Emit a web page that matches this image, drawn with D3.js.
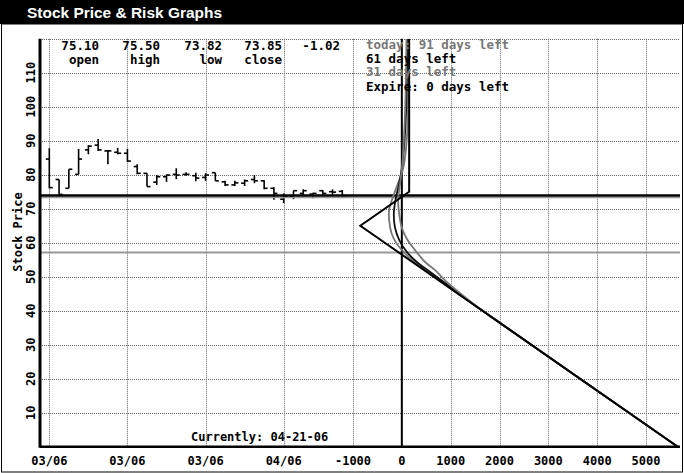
<!DOCTYPE html>
<html><head><meta charset="utf-8">
<script src="https://cdn.jsdelivr.net/npm/d3@7"></script>
<style>body{margin:0;background:#fff;} svg{display:block;}</style>
</head><body><svg id="c" width="684" height="473"></svg>
<script>
// ---------- data ----------
const titleText = "Stock Price & Risk Graphs";
const dateTickIdx = [0, 8, 16, 24];
const dateTickLabels = ["03/06", "03/06", "03/06", "04/06"];
const barOpen  = [84.6,78.6,76.0,80.1,87.3,88.7,87.0,86.6,86.3,82.4,80.4,77.8,79.4,80.1,80.1,79.7,79.2,80.6,77.9,77.0,77.5,78.6,78.2,76.0,72.8,73.5,74.5,74.3,75.3,75.0,75.10];
const barHigh  = [87.8,78.6,81.6,87.6,88.7,90.5,87.3,87.9,87.6,83.1,80.4,79.9,80.1,81.9,80.7,80.6,80.4,80.6,78.2,78.2,78.6,79.9,78.4,76.3,74.5,75.3,75.7,74.7,75.5,75.7,75.50];
const barLow   = [76.0,74.2,76.0,80.1,86.0,87.0,83.1,86.0,83.8,80.1,76.5,77.0,77.9,78.7,79.7,78.1,78.2,78.2,76.7,76.7,76.7,77.5,75.7,72.6,71.6,72.8,73.7,73.1,73.7,74.0,73.82];
const barClose = [76.2,74.2,81.6,84.6,88.4,87.3,87.0,86.3,84.0,80.4,76.5,79.4,79.9,79.9,80.1,79.0,79.9,78.2,77.0,77.6,78.2,78.2,76.0,74.5,73.5,75.3,75.3,74.5,74.5,74.87,73.85];
const quoteValues = ["75.10", "75.50", "73.82", "73.85", "-1.02"];
const quoteLabels = ["open", "high", "low", "close", ""];
const priceTicks = [10, 20, 30, 40, 50, 60, 70, 80, 90, 100, 110];
const priceGrid  = [10, 20, 30, 40, 50, 60, 70, 80, 90, 100, 110, 120];
const pnlTicks = [-1000, 0, 1000, 2000, 3000, 4000, 5000];
const currentPrice = 73.85;
const shadowPrice = 73.3;
const breakevenPrice = 57.1;
const currentDate = "Currently: 04-21-06";
const legendLabels = ["today: 91 days left", "61 days left", "31 days left", "Expire: 0 days left"];
const expiryPrice = [120, 75, 65, 0];
const expiryPnL   = [150, 150, -850, 5650];
const curve91Price = [120, 110, 100, 90, 82, 77, 72.6, 68.6, 64.7, 61.3, 57.9, 54.4, 52.0, 49, 46, 42, 36, 0];
const curve91PnL   = [95, 85, 70, 40, 5, -40, -76, -55, -6, 96, 266, 471, 676, 880, 1120, 1470, 2055, 5650];
const curve61Price = [120, 110, 100, 90, 82, 77, 73.1, 68.6, 64.7, 60.8, 57.4, 54.4, 51.5, 48, 44, 38, 0];
const curve61PnL   = [115, 105, 90, 55, 0, -60, -123, -164, -143, -55, 96, 301, 574, 900, 1270, 1850, 5650];
const curve31Price = [120, 110, 100, 90, 82, 77, 73.1, 69.6, 66.7, 62.8, 59.8, 56.9, 53.9, 51.5, 48, 44, 0];
const curve31PnL   = [140, 135, 125, 100, 30, -90, -190, -260, -260, -211, -109, 61, 301, 539, 860, 1252, 5650];

// ---------- drawing ----------
const svg = d3.select("#c");
const W = 684, H = 473;
const plotL = 40, plotR = 680;
const mono = "'DejaVu Sans Mono', monospace";

const y = d3.scaleLinear().domain([0, 120]).range([446.7, 38.7]);
const xd = d3.scalePoint().domain(d3.range(barOpen.length)).range([49.3, 342.3]);
const xp = d3.scaleLinear().domain([-1000, 5000]).range([353, 646]);

svg.append("rect").attr("width", W).attr("height", H).attr("fill", "#fff");
// title bar
svg.append("rect").attr("x", 0).attr("y", 0).attr("width", W).attr("height", 24).attr("fill", "#000");
svg.append("text").attr("x", 27).attr("y", 17.5).attr("fill", "#fff")
  .attr("font-family", "'Liberation Sans', Arial, sans-serif").attr("font-weight", "bold")
  .attr("font-size", 14.5).attr("textLength", 195).attr("lengthAdjust", "spacingAndGlyphs").text(titleText);
// frame
svg.append("rect").attr("x", 1.5).attr("y", 24).attr("width", W - 3).attr("height", H - 25)
  .attr("fill", "none").attr("stroke", "#000").attr("stroke-width", 1);

const grid = svg.append("g").attr("stroke", "#666").attr("stroke-width", 1).attr("stroke-dasharray", "1,1");
priceGrid.forEach(v => {
  grid.append("line").attr("x1", plotL).attr("x2", plotR)
    .attr("y1", Math.round(y(v)) + 0.5).attr("y2", Math.round(y(v)) + 0.5);
});
dateTickIdx.forEach(i => {
  const xx = Math.round(xd(i)) + 0.5;
  grid.append("line").attr("x1", xx).attr("x2", xx).attr("y1", y(120)).attr("y2", y(0));
});
pnlTicks.filter(v => v !== 0).forEach(v => {
  const xx = Math.round(xp(v)) + 0.5;
  grid.append("line").attr("x1", xx).attr("x2", xx).attr("y1", y(120)).attr("y2", y(0));
});

// header quote
const qx = [99, 160, 222, 282, 340];
quoteValues.forEach((t, i) => {
  svg.append("text").attr("x", qx[i]).attr("y", 50).attr("text-anchor", "end")
    .attr("font-family", mono).attr("font-weight", "bold").attr("font-size", 12.5).text(t);
  if (quoteLabels[i]) svg.append("text").attr("x", qx[i]).attr("y", 64).attr("text-anchor", "end")
    .attr("font-family", mono).attr("font-weight", "bold").attr("font-size", 12.5).text(quoteLabels[i]);
});

// price bars
const bars = svg.append("g").attr("stroke", "#000").attr("stroke-width", 1.6);
barOpen.forEach((o, i) => {
  const xx = xd(i);
  bars.append("line").attr("x1", xx).attr("x2", xx).attr("y1", y(barHigh[i])).attr("y2", y(barLow[i]));
  bars.append("line").attr("x1", xx - 3.5).attr("x2", xx).attr("y1", y(o)).attr("y2", y(o));
  bars.append("line").attr("x1", xx).attr("x2", xx + 3.5).attr("y1", y(barClose[i])).attr("y2", y(barClose[i]));
});

// horizontal reference lines
svg.append("line").attr("x1", plotL).attr("x2", plotR).attr("y1", y(breakevenPrice)).attr("y2", y(breakevenPrice))
  .attr("stroke", "#999").attr("stroke-width", 2);
svg.append("line").attr("x1", plotL).attr("x2", plotR).attr("y1", y(shadowPrice)).attr("y2", y(shadowPrice))
  .attr("stroke", "#999").attr("stroke-width", 1.5);
svg.append("line").attr("x1", plotL).attr("x2", plotR).attr("y1", y(currentPrice)).attr("y2", y(currentPrice))
  .attr("stroke", "#000").attr("stroke-width", 2.5);

// zero P&L line
svg.append("line").attr("x1", xp(0)).attr("x2", xp(0)).attr("y1", y(120)).attr("y2", y(0))
  .attr("stroke", "#000").attr("stroke-width", 2);

// risk curves
svg.append("clipPath").attr("id", "clip").append("rect")
  .attr("x", plotL).attr("y", y(120)).attr("width", plotR - plotL).attr("height", y(0) - y(120));
const risk = svg.append("g").attr("clip-path", "url(#clip)").attr("fill", "none");
const line = d3.line().x(d => xp(d[1])).y(d => y(d[0])).curve(d3.curveCatmullRom.alpha(0.5));
const curves = [
  [curve31Price, curve31PnL, "#777"],
  [curve61Price, curve61PnL, "#111"],
  [curve91Price, curve91PnL, "#777"],
];
curves.forEach(([p, v, c]) => {
  risk.append("path").attr("d", line(p.map((pp, i) => [pp, v[i]])))
    .attr("stroke", c).attr("stroke-width", 1.8);
});
risk.append("path").attr("d", d3.line().x(d => xp(d[1])).y(d => y(d[0]))(expiryPrice.map((pp, i) => [pp, expiryPnL[i]])))
  .attr("stroke", "#000").attr("stroke-width", 2);

// axes lines
svg.append("line").attr("x1", plotL).attr("x2", plotL).attr("y1", y(120)).attr("y2", y(0) + 1)
  .attr("stroke", "#000").attr("stroke-width", 3);
svg.append("line").attr("x1", plotL).attr("x2", plotR).attr("y1", y(0)).attr("y2", y(0))
  .attr("stroke", "#000").attr("stroke-width", 2.5);

// y tick labels (rotated)
priceTicks.forEach(v => {
  svg.append("text").attr("transform", `translate(35,${y(v)}) rotate(-90)`)
    .attr("text-anchor", "middle").attr("font-family", mono).attr("font-weight", "bold")
    .attr("font-size", 12).text(v);
});
svg.append("text").attr("transform", "translate(22,232) rotate(-90)")
  .attr("text-anchor", "middle").attr("font-family", mono).attr("font-weight", "bold")
  .attr("font-size", 12).text("Stock Price");

// bottom labels
dateTickIdx.forEach((i, k) => {
  svg.append("text").attr("x", xd(i)).attr("y", 465).attr("text-anchor", "middle")
    .attr("font-family", mono).attr("font-weight", "bold").attr("font-size", 12).text(dateTickLabels[k]);
});
pnlTicks.forEach(v => {
  svg.append("text").attr("x", xp(v)).attr("y", 465).attr("text-anchor", "middle")
    .attr("font-family", mono).attr("font-weight", "bold").attr("font-size", 12).text(v);
});
svg.append("text").attr("x", 191).attr("y", 441)
  .attr("font-family", mono).attr("font-weight", "bold").attr("font-size", 12).text(currentDate);

// legend
const legColors = ["#777", "#000", "#777", "#000"];
const legY = [49, 62.5, 76, 91];
legendLabels.forEach((t, i) => {
  svg.append("text").attr("x", 366).attr("y", legY[i]).attr("fill", legColors[i])
    .attr("font-family", mono).attr("font-weight", "bold").attr("font-size", 12.5).text(t);
});
</script></body></html>
